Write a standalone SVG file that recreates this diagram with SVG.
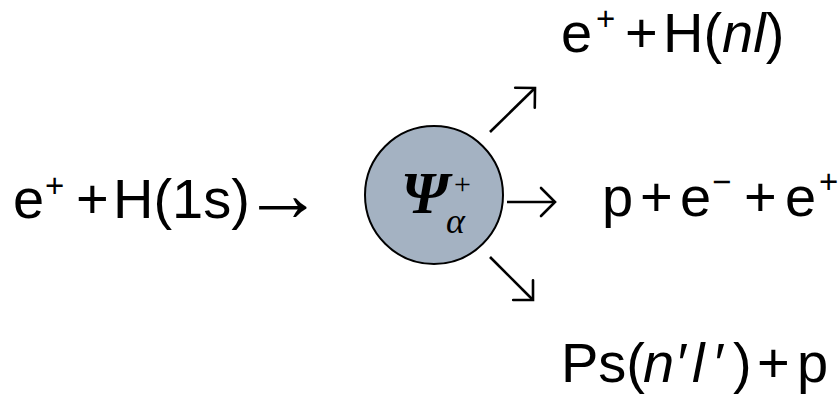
<svg xmlns="http://www.w3.org/2000/svg" width="839" height="395" viewBox="0 0 839 395">
  <style>
    .t { font-family: "Liberation Sans", Arial, sans-serif; font-size: 56px; fill: #000; }
    .sup { font-size: 33px; }
    .it { font-style: italic; }
    .conn { stroke: #000; stroke-width: 2.6; fill: none; }
    .serif { font-family: "Liberation Serif", "Times New Roman", serif; }
  </style>
  <defs>
    <marker id="ah" markerUnits="userSpaceOnUse" markerWidth="40" markerHeight="40" refX="0" refY="0" orient="auto" overflow="visible">
      <path d="M-14,-14 L0,0 L-14,14" fill="none" stroke="#000" stroke-width="2.6" stroke-linecap="round" stroke-linejoin="miter"/>
    </marker>
  </defs>
  <rect width="839" height="395" fill="#fff"/>

  <g id="reactant">
    <text class="t" y="218">
      <tspan x="13">e</tspan><tspan class="sup" x="45" y="197">+</tspan><tspan x="76" y="218">+</tspan><tspan x="113">H(1s)</tspan>
    </text>
    <text class="serif" x="243" y="221" style="font-size:80px">→</text>
  </g>

  <g id="complex">
    <circle cx="434" cy="195" r="69" fill="#a4b2c2" stroke="#000" stroke-width="2"/>
    <text class="serif" x="401" y="213" style="font-size:60px;font-weight:bold;font-style:italic">Ψ</text>
    <text class="serif" x="454" y="194" style="font-size:30px">+</text>
    <text class="serif" x="446" y="233" style="font-size:36px;font-style:italic">α</text>
  </g>

  <g id="product-top">
    <text class="t" y="52">
      <tspan x="561">e</tspan><tspan class="sup" x="596" y="30">+</tspan><tspan x="625" y="52">+</tspan><tspan x="663">H(</tspan><tspan class="it">nl</tspan><tspan>)</tspan>
    </text>
  </g>

  <g id="product-mid">
    <text class="t" y="216">
      <tspan x="602">p</tspan><tspan x="640">+</tspan><tspan x="680">e</tspan><tspan class="sup" x="712" y="193">−</tspan><tspan x="744" y="216">+</tspan><tspan x="785">e</tspan><tspan class="sup" x="819" y="193">+</tspan>
    </text>
  </g>

  <g id="product-bottom">
    <text class="t" y="382">
      <tspan x="561">Ps(</tspan><tspan class="it" x="643">n</tspan><tspan class="it" x="675">′</tspan><tspan class="it" x="692">l</tspan><tspan class="it" x="712">′</tspan><tspan x="733">)</tspan><tspan x="757">+</tspan><tspan x="797">p</tspan>
    </text>
  </g>

  <g id="connectors">
    <line class="conn" x1="490" y1="132" x2="535" y2="88" marker-end="url(#ah)"/>
    <line class="conn" x1="507" y1="202" x2="555" y2="202" marker-end="url(#ah)"/>
    <line class="conn" x1="490" y1="257" x2="533" y2="300" marker-end="url(#ah)"/>
  </g>
</svg>
